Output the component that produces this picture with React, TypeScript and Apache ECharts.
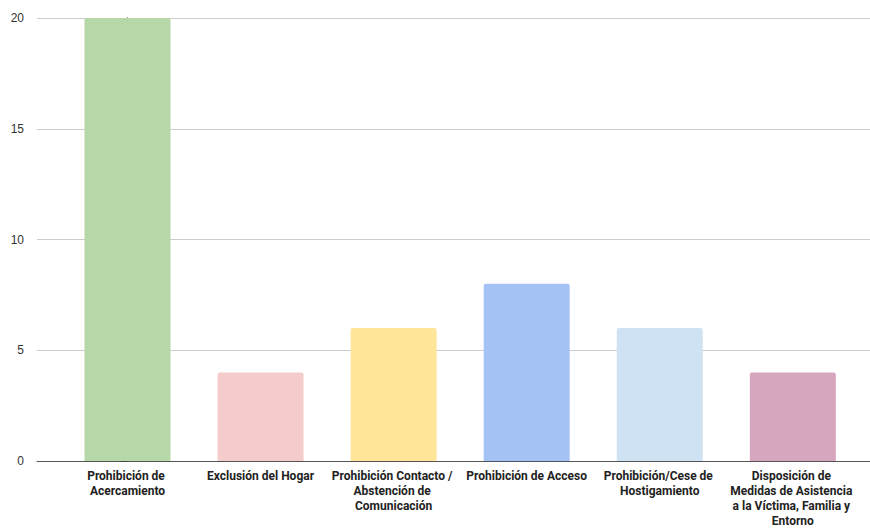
import React, { useEffect, useRef } from "react";
import * as echarts from "echarts";

const categories = [
  "Prohibición de Acercamiento",
  "Exclusión del Hogar",
  "Prohibición Contacto / Abstención de Comunicación",
  "Prohibición de Acceso",
  "Prohibición/Cese de Hostigamiento",
  "Disposición de Medidas de Asistencia a la Víctima, Familia y Entorno",
];
const values = [20, 4, 6, 8, 6, 4];
const colors = ["#b6d7a8", "#f4cccc", "#ffe599", "#a4c2f4", "#cfe2f3", "#d5a6bd"];
const yTicks = [0, 5, 10, 15, 20];

export default function App() {
  const ref = useRef<HTMLDivElement>(null);
  useEffect(() => {
    if (!ref.current) return;
    const chart = echarts.init(ref.current, undefined, { renderer: "svg" });
    chart.setOption({
      animation: false,
      grid: { left: 37, right: 0, top: 18, bottom: 65, containLabel: false },
      xAxis: {
        type: "value",
        min: -0.68,
        max: 5.58,
        splitLine: { show: false },
        axisTick: { show: false },
        axisLine: { show: true, lineStyle: { color: "#555", width: 1 } },
        axisLabel: {
          customValues: categories.map((_, i) => i),
          formatter: (v: number) => categories[Math.round(v)] ?? "",
          width: 130,
          overflow: "break",
          fontFamily: "Roboto",
          fontWeight: "bold",
          fontSize: 12,
          lineHeight: 15,
          color: "#222",
          margin: 7,
          align: "center",
          verticalAlign: "top",
        },
      },
      yAxis: {
        type: "value",
        min: yTicks[0],
        max: yTicks[yTicks.length - 1],
        interval: 5,
        axisLine: { show: true, lineStyle: { color: "#000", width: 1 } },
        axisTick: { show: true, length: 6, lineStyle: { color: "#444" } },
        splitLine: { show: true, lineStyle: { color: "#cccccc", width: 1 } },
        axisLabel: {
          fontFamily: "Liberation Sans, Arial, sans-serif",
          fontSize: 12,
          color: "#333",
          margin: 13,
        },
      },
      series: [
        {
          type: "bar",
          barWidth: 86,
          data: values.map((v, i) => ({
            value: [i, v],
            itemStyle: { color: colors[i], borderRadius: [2, 2, 0, 0] },
          })),
        },
      ],
    });
    return () => chart.dispose();
  }, []);
  return <div ref={ref} style={{ width: 870, height: 528, position: "absolute", left: 0, top: 0 }} />;
}
